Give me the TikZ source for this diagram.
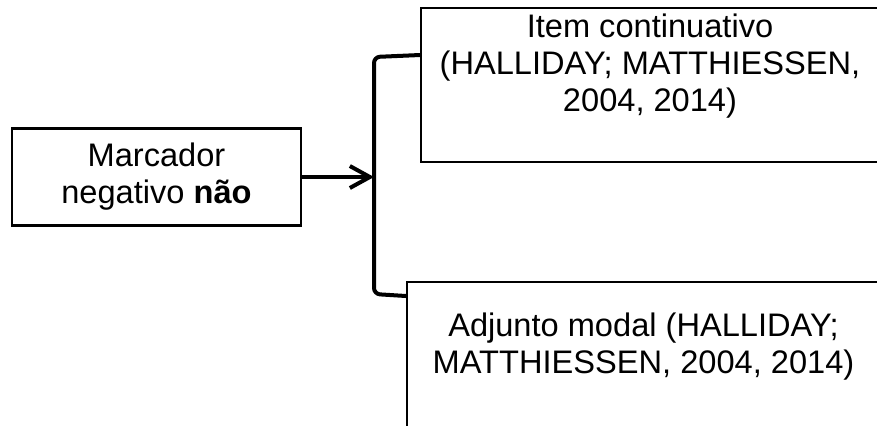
\documentclass[tikz,border=0pt]{standalone}
\usepackage{fontspec}
\setmainfont{Liberation Sans}
\usetikzlibrary{arrows.meta}

\tikzset{
  box/.style = {draw, line width = 1.1pt, inner sep = 0pt},
  txt/.style = {align = center, inner sep = 0pt, font = \fontsize{16.3pt}{18.5pt}\selectfont},
  thickline/.style = {line width = 2pt}
}

\begin{document}
\begin{tikzpicture}[x = 0.5pt, y = -0.5pt]
\useasboundingbox (0,0) rectangle (877,425);
\clip (0,0) rectangle (877,425);

%left box
\node[box, txt, draw, minimum width = 144.5pt, minimum height = 48.5pt] (marcador) at (156.5,177) {Marcador\\negativo \textbf{não}};

%right boxes (cut by the page edge)
\node[box, line width = 1pt, minimum width = 229pt, minimum height = 77pt] (item) at (650,85) {};
\node[txt] (itemtext) at (650,66) {Item continuativo\\(HALLIDAY; MATTHIESSEN,\\2004, 2014)};
\node[box, line width = 1pt, minimum width = 236.5pt, minimum height = 99pt] (adjunto) at (643.5,381) {};
\node[txt] (adjuntotext) at (643.5,347) {Adjunto modal (HALLIDAY;\\MATTHIESSEN, 2004, 2014)};

%brace and arrow
\coordinate (brace) at (374,177);
\draw[thickline, rounded corners = 3pt] (item.west |- 0,55) -- (374,57) -- (374,294) -- (adjunto.west |- 0,296);
\draw[thickline, -{Straight Barb[length = 10pt, width = 11pt, line width = 2pt]}] (marcador.east) -- (brace);

\end{tikzpicture}
\end{document}
